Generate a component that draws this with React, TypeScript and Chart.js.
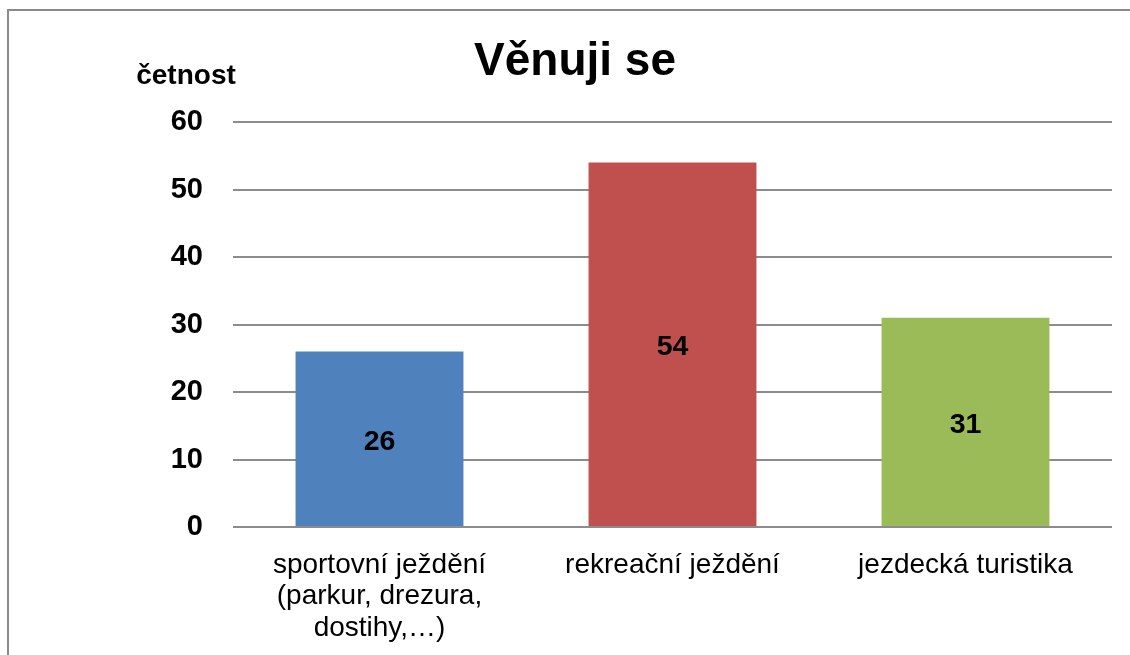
import React, { useEffect, useRef } from "react";
import { Chart, registerables } from "chart.js";

Chart.register(...registerables);

const categories: (string | string[])[] = [
  ["sportovní ježdění", "(parkur, drezura,", "dostihy,…)"],
  "rekreační ježdění",
  "jezdecká turistika",
];
const values: number[] = [26, 54, 31];
const barColors: string[] = ["#4F81BD", "#C0504D", "#9BBB59"];
const yTicks: number[] = [0, 10, 20, 30, 40, 50, 60];
const titleText = "Věnuji se";
const yAxisTitle = "četnost";

const FONT = "'Liberation Sans', Arial, sans-serif";

const decorPlugin = {
  id: "decor",
  beforeDraw(chart: any) {
    const ctx = chart.ctx;
    ctx.save();
    ctx.strokeStyle = "#8a8a8a";
    ctx.lineWidth = 2;
    ctx.beginPath();
    ctx.moveTo(8, 700);
    ctx.lineTo(8, 10);
    ctx.lineTo(1200, 10);
    ctx.stroke();
    ctx.restore();
  },
  afterDraw(chart: any) {
    const ctx = chart.ctx;
    ctx.save();
    ctx.fillStyle = "#000";
    ctx.textAlign = "center";
    ctx.textBaseline = "alphabetic";
    ctx.font = `bold 46px ${FONT}`;
    ctx.fillText(titleText, 575, 75);
    ctx.font = `bold 28px ${FONT}`;
    ctx.fillText(yAxisTitle, 186, 84);
    // data labels
    const meta = chart.getDatasetMeta(0);
    ctx.font = `bold 28.5px ${FONT}`;
    ctx.textBaseline = "middle";
    meta.data.forEach((bar: any, i: number) => {
      const v = chart.data.datasets[0].data[i];
      const y = (bar.y + bar.base) / 2;
      ctx.fillText(String(v), bar.x, y + 3);
    });
    ctx.restore();
  },
};

export default function App() {
  const ref = useRef<HTMLCanvasElement>(null);
  useEffect(() => {
    if (!ref.current) return;
    const chart = new Chart(ref.current, {
      type: "bar",
      data: {
        labels: categories,
        datasets: [
          {
            data: values,
            backgroundColor: barColors,
            borderWidth: 0,
            categoryPercentage: 1,
            barPercentage: 0.573,
          },
        ],
      },
      options: {
        animation: false,
        responsive: false,
        maintainAspectRatio: false,
        layout: { padding: { top: 122, right: 18, left: 0, bottom: 0 } },
        plugins: {
          legend: { display: false },
          title: { display: false },
          tooltip: { enabled: false },
        },
        scales: {
          x: {
            grid: { display: false },
            border: { display: false },
            ticks: {
              color: "#000",
              font: { family: FONT, size: 28, lineHeight: 1.13 },
              padding: 14,
              maxRotation: 0,
              autoSkip: false,
            },
            afterFit(scale: any) {
              scale.height = 128;
            },
          },
          y: {
            min: 0,
            max: 60,
            afterBuildTicks(scale: any) {
              scale.ticks = yTicks.map((v) => ({ value: v }));
            },
            grid: { color: "#8c8c8c", lineWidth: 2, drawTicks: false },
            border: { display: false },
            ticks: {
              color: "#000",
              font: { family: FONT, size: 29, weight: "bold" },
              padding: 30,
            },
            afterFit(scale: any) {
              scale.width = 233;
            },
          },
        },
      },
      plugins: [decorPlugin],
    });
    return () => chart.destroy();
  }, []);
  return (
    <div style={{ position: "fixed", left: 0, top: 0, width: 1130, height: 655, background: "#fff" }}>
      <canvas ref={ref} width={1130} height={655} style={{ width: 1130, height: 655, display: "block" }} />
    </div>
  );
}
